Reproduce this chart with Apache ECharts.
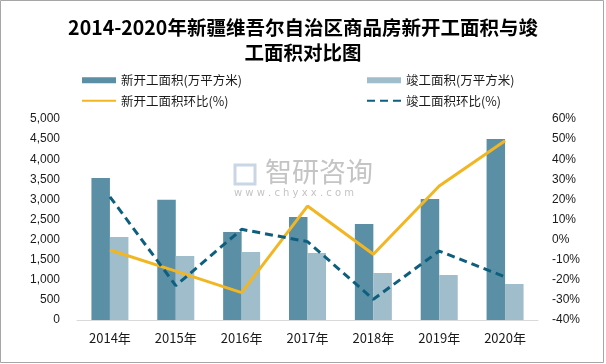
<!DOCTYPE html>
<html><head><meta charset="utf-8">
<script src="https://cdn.jsdelivr.net/npm/echarts@6/dist/echarts.min.js"></script>
<style>html,body{margin:0;padding:0;background:#fff}#c{width:606px;height:364px}</style>
</head><body><div id="c"></div>
<script>
const categories = ['2014年','2015年','2016年','2017年','2018年','2019年','2020年'];
const newStart = [3530, 2990, 2190, 2560, 2390, 3010, 4500];
const completed = [2065, 1592, 1692, 1667, 1169, 1119, 896];
const newStartRatio = [-5.2, -15.7, -26.4, 16.7, -7.3, 26.7, 49.2];
const completedRatio = [21.3, -22.9, 5.1, -1.0, -29.7, -5.7, -18.5];
const leftTicks = {min: 0, max: 5000, interval: 500};
const rightTicks = {min: -40, max: 60, interval: 10};

const chart = echarts.init(document.getElementById('c'));
const lab = {color: '#1a1a1a', fontSize: 12, fontFamily: 'Liberation Sans, Arial, sans-serif'};
const legText = {fontSize: 12.5, color: '#1a1a1a', fontFamily: 'Noto Sans CJK SC'};
chart.setOption({
  animation: false,
  title: {
    text: '2014-2020年新疆维吾尔自治区商品房新开工面积与竣\n工面积对比图',
    left: 'center', top: 10,
    textStyle: {fontSize: 19.5, fontWeight: 'bold', color: '#000', lineHeight: 25, fontFamily: 'Noto Sans CJK SC'}
  },
  graphic: [
    {type: 'rect', shape: {x: 0.5, y: 0.5, width: 603, height: 362}, style: {fill: 'none', stroke: '#a6a6a6', lineWidth: 1}, z: -1},
    {type: 'text', left: 265, top: 158, style: {text: '智研咨询', fontSize: 27, fill: '#c4c4c4', fontFamily: 'Noto Sans CJK SC'}, z: 0},
    {type: 'text', left: 234, top: 188, style: {text: 'w w w . c h y x x . c o m', fontSize: 10, fill: '#c4c4c4', fontFamily: 'DejaVu Sans'}, z: 0},
    {type: 'rect', shape: {x: 235, y: 165, width: 20, height: 19}, style: {fill: 'none', stroke: '#c9d6e6', lineWidth: 3}, z: 0}
  ],
  legend: [
    {left: 76, top: 69, orient: 'vertical', itemGap: 8, itemWidth: 34, itemHeight: 6, textStyle: legText,
     data: [
       {name: '新开工面积(万平方米)', icon: 'rect'},
       {name: '新开工面积环比(%)', itemStyle: {opacity: 0}}
     ]},
    {left: 361, top: 69, orient: 'vertical', itemGap: 8, itemWidth: 34, itemHeight: 6, textStyle: legText,
     data: [
       {name: '竣工面积(万平方米)', icon: 'rect'},
       {name: '竣工面积环比(%)', itemStyle: {opacity: 0}}
     ]}
  ],
  grid: {left: 77, right: 68, top: 119, bottom: 44},
  xAxis: {
    type: 'category', data: categories,
    axisLine: {lineStyle: {color: '#d9d9d9', width: 1}},
    axisTick: {show: false},
    axisLabel: {color: '#1a1a1a', fontSize: 13, margin: 12, fontFamily: 'Noto Sans CJK SC'}
  },
  yAxis: [
    {type: 'value', min: leftTicks.min, max: leftTicks.max, interval: leftTicks.interval,
     splitLine: {show: false}, axisLine: {show: false}, axisTick: {show: false},
     axisLabel: Object.assign({margin: 17, formatter: v => v.toLocaleString('en-US')}, lab)},
    {type: 'value', min: rightTicks.min, max: rightTicks.max, interval: rightTicks.interval,
     splitLine: {show: false}, axisLine: {show: false}, axisTick: {show: false},
     axisLabel: Object.assign({margin: 14, formatter: '{value}%'}, lab)}
  ],
  series: [
    {name: '新开工面积(万平方米)', type: 'bar', data: newStart, barWidth: 18.5, barGap: '0%', itemStyle: {color: '#5b8fa6'}, z: 2},
    {name: '竣工面积(万平方米)', type: 'bar', data: completed, barWidth: 18.5, itemStyle: {color: '#9fbdca'}, z: 2},
    {name: '新开工面积环比(%)', type: 'line', yAxisIndex: 1, data: newStartRatio, symbol: 'none',
     lineStyle: {color: '#f2b622', width: 3}, itemStyle: {color: '#f2b622'}, z: 3},
    {name: '竣工面积环比(%)', type: 'line', yAxisIndex: 1, data: completedRatio, symbol: 'none',
     lineStyle: {color: '#0e5f7e', width: 3, type: [8, 5]}, itemStyle: {color: '#0e5f7e'}, z: 3}
  ]
});
</script></body></html>
